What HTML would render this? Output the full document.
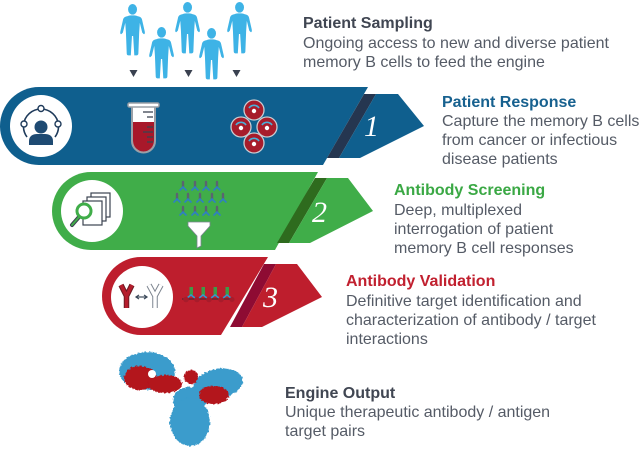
<!DOCTYPE html>
<html><head><meta charset="utf-8"><style>
html,body{margin:0;padding:0;background:#fff;}
svg{display:block;}
text{font-family:"Liberation Sans",Arial,sans-serif;}
.t{font-weight:bold;font-size:16px;}
.b{font-size:16px;fill:#555b66;}
.n{font-family:"Liberation Serif",serif;font-style:italic;font-size:30px;fill:#fff;}
</style></head><body>
<svg width="640" height="450" viewBox="0 0 640 450" xmlns="http://www.w3.org/2000/svg">
<defs>
<filter id="rough" x="-20%" y="-20%" width="140%" height="140%">
<feTurbulence type="fractalNoise" baseFrequency="0.45" numOctaves="2" seed="4" result="n"/>
<feDisplacementMap in="SourceGraphic" in2="n" scale="3.5" xChannelSelector="R" yChannelSelector="G"/>
</filter>
</defs>
<rect width="640" height="450" fill="#fff"/>

<!-- people -->
<g fill="#3eb3e6">
<g transform="translate(118,4) scale(0.97)"><ellipse cx="15" cy="5.5" rx="4.6" ry="5.5"/><path d="M10,12.5 C12,11.5 18,11.5 20,12.5 C23,13 24.5,14 25,17 L27.5,28 C28,30 27.5,31.5 26.5,31 L25,29.5 L22.5,19.5 L21.8,30 L21,51 C21,52.5 20,53 18.5,53 L16.8,53 L15.6,33 L14.4,33 L13.2,53 L11.5,53 C10,53 9,52.5 9,51 L8.2,30 L7.5,19.5 L5,29.5 L3.5,31 C2.5,31.5 2,30 2.5,28 L5,17 C5.5,14 7,13 10,12.5 Z"/></g>
<g transform="translate(147,27) scale(0.97)"><ellipse cx="15" cy="5.5" rx="4.6" ry="5.5"/><path d="M10,12.5 C12,11.5 18,11.5 20,12.5 C23,13 24.5,14 25,17 L27.5,28 C28,30 27.5,31.5 26.5,31 L25,29.5 L22.5,19.5 L21.8,30 L21,51 C21,52.5 20,53 18.5,53 L16.8,53 L15.6,33 L14.4,33 L13.2,53 L11.5,53 C10,53 9,52.5 9,51 L8.2,30 L7.5,19.5 L5,29.5 L3.5,31 C2.5,31.5 2,30 2.5,28 L5,17 C5.5,14 7,13 10,12.5 Z"/></g>
<g transform="translate(173,2) scale(0.97)"><ellipse cx="15" cy="5.5" rx="4.6" ry="5.5"/><path d="M10,12.5 C12,11.5 18,11.5 20,12.5 C23,13 24.5,14 25,17 L27.5,28 C28,30 27.5,31.5 26.5,31 L25,29.5 L22.5,19.5 L21.8,30 L21,51 C21,52.5 20,53 18.5,53 L16.8,53 L15.6,33 L14.4,33 L13.2,53 L11.5,53 C10,53 9,52.5 9,51 L8.2,30 L7.5,19.5 L5,29.5 L3.5,31 C2.5,31.5 2,30 2.5,28 L5,17 C5.5,14 7,13 10,12.5 Z"/></g>
<g transform="translate(197,28) scale(0.97)"><ellipse cx="15" cy="5.5" rx="4.6" ry="5.5"/><path d="M10,12.5 C12,11.5 18,11.5 20,12.5 C23,13 24.5,14 25,17 L27.5,28 C28,30 27.5,31.5 26.5,31 L25,29.5 L22.5,19.5 L21.8,30 L21,51 C21,52.5 20,53 18.5,53 L16.8,53 L15.6,33 L14.4,33 L13.2,53 L11.5,53 C10,53 9,52.5 9,51 L8.2,30 L7.5,19.5 L5,29.5 L3.5,31 C2.5,31.5 2,30 2.5,28 L5,17 C5.5,14 7,13 10,12.5 Z"/></g>
<g transform="translate(225,2) scale(0.97)"><ellipse cx="15" cy="5.5" rx="4.6" ry="5.5"/><path d="M10,12.5 C12,11.5 18,11.5 20,12.5 C23,13 24.5,14 25,17 L27.5,28 C28,30 27.5,31.5 26.5,31 L25,29.5 L22.5,19.5 L21.8,30 L21,51 C21,52.5 20,53 18.5,53 L16.8,53 L15.6,33 L14.4,33 L13.2,53 L11.5,53 C10,53 9,52.5 9,51 L8.2,30 L7.5,19.5 L5,29.5 L3.5,31 C2.5,31.5 2,30 2.5,28 L5,17 C5.5,14 7,13 10,12.5 Z"/></g>
</g>
<g fill="#3a4150">
<polygon points="129.5,70 137.5,70 133.5,77"/>
<polygon points="184.5,70 192.5,70 188.5,77"/>
<polygon points="232.5,70 240.5,70 236.5,77"/>
</g>

<!-- blue band -->
<path d="M39,87 H368 L323,165 H39 A39,39 0 0 1 39,87 Z" fill="#0f5f8e"/>
<polygon points="364,94 376,94 339,158 327,158" fill="#253650"/>
<polygon points="376,94 398,94 424,126 360,158 339,158" fill="#0f5f8e"/>
<text class="n" x="364" y="136">1</text>
<circle cx="41" cy="126" r="31" fill="#fff"/>
<g stroke="#1e3a5a" stroke-width="1.6" fill="none">
<path d="M27,137 A17.5,17.5 0 1 1 55,137"/>
</g>
<g fill="#fff" stroke="#1e3a5a" stroke-width="1.4">
<circle cx="41" cy="108.5" r="3"/><circle cx="24" cy="124" r="3"/><circle cx="58" cy="124" r="3"/>
</g>
<circle cx="41" cy="127" r="6.5" fill="#1e4a72"/>
<path d="M29,145 V141 C29,136 33,134 37,134 H45 C49,134 53,136 53,141 V145 Z" fill="#1e4a72"/>
<!-- test tube -->
<path d="M132,106 V141 A11.5,11.5 0 0 0 155,141 V106 Z" fill="#fff" stroke="#9aa0a7" stroke-width="2"/>
<path d="M133,122 V141 A10.5,10.5 0 0 0 154,141 V122 Z" fill="#a8182a"/>
<rect x="128" y="103" width="31" height="4" rx="1.5" fill="#fff" stroke="#9aa0a7" stroke-width="1.5"/>
<g stroke="#3b4350" stroke-width="1.3">
<line x1="143" y1="112" x2="153" y2="112"/><line x1="147" y1="117" x2="153" y2="117"/>
<line x1="147" y1="127" x2="153" y2="127"/><line x1="143" y1="132" x2="153" y2="132"/>
<line x1="147" y1="137" x2="153" y2="137"/><line x1="147" y1="142" x2="153" y2="142"/>
</g>
<!-- cells -->
<g>
<g transform="translate(254,110)"><circle r="10" fill="#a71c2b" stroke="#c8ccd2" stroke-width="1.3"/><path d="M-5,-2 A6,6 0 0 1 5,-2" fill="none" stroke="#4ab0d9" stroke-width="1.7"/><circle cy="1" r="2.2" fill="#fff"/></g>
<g transform="translate(241,127)"><circle r="10" fill="#a71c2b" stroke="#c8ccd2" stroke-width="1.3"/><path d="M-5,-2 A6,6 0 0 1 5,-2" fill="none" stroke="#4ab0d9" stroke-width="1.7"/><circle cy="1" r="2.2" fill="#fff"/></g>
<g transform="translate(267,127)"><circle r="10" fill="#a71c2b" stroke="#c8ccd2" stroke-width="1.3"/><path d="M-5,-2 A6,6 0 0 1 5,-2" fill="none" stroke="#4ab0d9" stroke-width="1.7"/><circle cy="1" r="2.2" fill="#fff"/></g>
<g transform="translate(254,143)"><circle r="10" fill="#a71c2b" stroke="#c8ccd2" stroke-width="1.3"/><path d="M-5,-2 A6,6 0 0 1 5,-2" fill="none" stroke="#4ab0d9" stroke-width="1.7"/><circle cy="1" r="2.2" fill="#fff"/></g>
</g>

<!-- green band -->
<path d="M91,172 H318 L275,250 H91 A39,39 0 0 1 91,172 Z" fill="#40ad49"/>
<polygon points="315,178 327,178 289,243 277,243" fill="#2e6b1e"/>
<polygon points="327,178 348,178 373,211 310,243 289,243" fill="#40ad49"/>
<text class="n" x="312" y="222">2</text>
<circle cx="92" cy="211" r="31" fill="#fff"/>
<g fill="#fff" stroke="#3b4350" stroke-width="1.2">
<rect x="91" y="193" width="19" height="24"/>
<rect x="87" y="197" width="19" height="24"/>
<rect x="83" y="201" width="19" height="24"/>
</g>
<line x1="79" y1="217" x2="72" y2="225" stroke="#3b4350" stroke-width="4" stroke-linecap="round"/>
<line x1="79" y1="217" x2="72" y2="225" stroke="#40ad49" stroke-width="2" stroke-linecap="round"/>
<circle cx="84" cy="211" r="7" fill="#fff" stroke="#40ad49" stroke-width="3"/>
<!-- antibody array -->
<g stroke-linecap="round">
<g stroke="#5a6470" stroke-width="2.4">
<line x1="183" y1="182" x2="183" y2="187"/><line x1="195" y1="182" x2="195" y2="187"/><line x1="206" y1="182" x2="206" y2="187"/><line x1="217" y1="182" x2="217" y2="187"/>
<line x1="177" y1="194" x2="177" y2="199"/><line x1="188" y1="194" x2="188" y2="199"/><line x1="200" y1="194" x2="200" y2="199"/><line x1="212" y1="194" x2="212" y2="199"/><line x1="223" y1="194" x2="223" y2="199"/>
<line x1="183" y1="207" x2="183" y2="212"/><line x1="195" y1="207" x2="195" y2="212"/><line x1="206" y1="207" x2="206" y2="212"/><line x1="217" y1="207" x2="217" y2="212"/>
</g>
<g stroke="#2f7fc4" stroke-width="1.6" fill="none">
<path d="M180,190 L183,187 L186,190 M192,190 L195,187 L198,190 M203,190 L206,187 L209,190 M214,190 L217,187 L220,190"/>
<path d="M174,202 L177,199 L180,202 M185,202 L188,199 L191,202 M197,202 L200,199 L203,202 M209,202 L212,199 L215,202 M220,202 L223,199 L226,202"/>
<path d="M180,215 L183,212 L186,215 M192,215 L195,212 L198,215 M203,215 L206,212 L209,215 M214,215 L217,212 L220,215"/>
</g>
</g>
<path d="M188,222 H210 V226 L201,236 V246 L197,248 V236 L188,226 Z" fill="#fff" stroke="#7b8490" stroke-width="0.8"/>

<!-- red band -->
<path d="M141,257 H268 L221,335 H141 A39,39 0 0 1 141,257 Z" fill="#be1e2d"/>
<polygon points="264,264 276,264 242,327 230,327" fill="#8e0b33"/>
<polygon points="276,264 297,264 322,297 262,327 242,327" fill="#be1e2d"/>
<text class="n" x="263" y="307">3</text>
<circle cx="142" cy="297" r="31" fill="#fff"/>
<g fill="none" stroke-linejoin="round">
<path d="M121,285 L126.5,296 L126.5,308 M132,285 L126.5,296" stroke="#6b1a22" stroke-width="5.5"/>
<path d="M121,285 L126.5,296 L126.5,308 M132,285 L126.5,296" stroke="#b51d2c" stroke-width="3.5"/>
<path d="M149,285 L155,296 L155,308 M161,285 L155,296" stroke="#7d8590" stroke-width="5.5"/>
<path d="M149,285 L155,296 L155,308 M161,285 L155,296" stroke="#fff" stroke-width="3.5"/>
</g>
<g stroke="#3c4a5a" stroke-width="1.2" fill="none">
<line x1="136" y1="297" x2="147" y2="297"/>
<path d="M139,295 L136,297 L139,299 M144,295 L147,297 L144,299"/>
</g>
<!-- mini antibodies -->
<line x1="182" y1="299" x2="233" y2="299" stroke="#3a2a33" stroke-width="1"/>
<g fill="#3d9b48">
<rect x="189.5" y="287" width="3.5" height="8"/><rect x="201.5" y="287" width="3.5" height="8"/><rect x="213.5" y="287" width="3.5" height="8"/><rect x="225.5" y="287" width="3.5" height="8"/>
</g>
<g stroke="#2f9ad0" stroke-width="1.6" fill="none">
<path d="M187,298 L191,295 L195,298 M199,298 L203,295 L207,298 M211,298 L215,295 L219,298 M223,298 L227,295 L231,298"/>
</g>
<g fill="#a71c2b">
<circle cx="186" cy="299.5" r="2.8"/><circle cx="197" cy="299.5" r="2.8"/><circle cx="209" cy="299.5" r="2.8"/><circle cx="221" cy="299.5" r="2.8"/><circle cx="232" cy="299.5" r="2.5"/>
</g>

<!-- protein -->
<g filter="url(#rough)">
<ellipse cx="147" cy="371" rx="28" ry="19" fill="#3a9ccc"/>
<ellipse cx="218" cy="384" rx="25" ry="15" fill="#3a9ccc" transform="rotate(-12 218 384)"/>
<ellipse cx="190" cy="400" rx="17" ry="13" fill="#3a9ccc"/>
<ellipse cx="190" cy="422" rx="20" ry="24" fill="#3a9ccc"/>
<ellipse cx="140" cy="378" rx="16" ry="12" fill="#b3121c"/>
<ellipse cx="165" cy="384" rx="17" ry="9" fill="#b3121c"/>
<circle cx="191" cy="377" r="7" fill="#b3121c"/>
<ellipse cx="214" cy="395" rx="15" ry="9" fill="#b3121c"/>
</g>
<circle cx="152" cy="374" r="4" fill="#fff"/>

<!-- texts -->
<text class="t" x="303" y="28" fill="#404652">Patient Sampling</text>
<text class="b" x="303" y="48">Ongoing access to new and diverse patient</text>
<text class="b" x="303" y="67">memory B cells to feed the engine</text>

<text class="t" x="442" y="107" fill="#17618f">Patient Response</text>
<text class="b" x="442" y="126">Capture the memory B cells</text>
<text class="b" x="442" y="145">from cancer or infectious</text>
<text class="b" x="442" y="164">disease patients</text>

<text class="t" x="394" y="195" fill="#3aa844">Antibody Screening</text>
<text class="b" x="394" y="215">Deep, multiplexed</text>
<text class="b" x="394" y="234">interrogation of patient</text>
<text class="b" x="394" y="253">memory B cell responses</text>

<text class="t" x="346" y="286" fill="#c1202f">Antibody Validation</text>
<text class="b" x="346" y="306">Definitive target identification and</text>
<text class="b" x="346" y="325">characterization of antibody / target</text>
<text class="b" x="346" y="344">interactions</text>

<text class="t" x="285" y="398" fill="#404652">Engine Output</text>
<text class="b" x="285" y="417">Unique therapeutic antibody / antigen</text>
<text class="b" x="285" y="436">target pairs</text>
</svg>
</body></html>
